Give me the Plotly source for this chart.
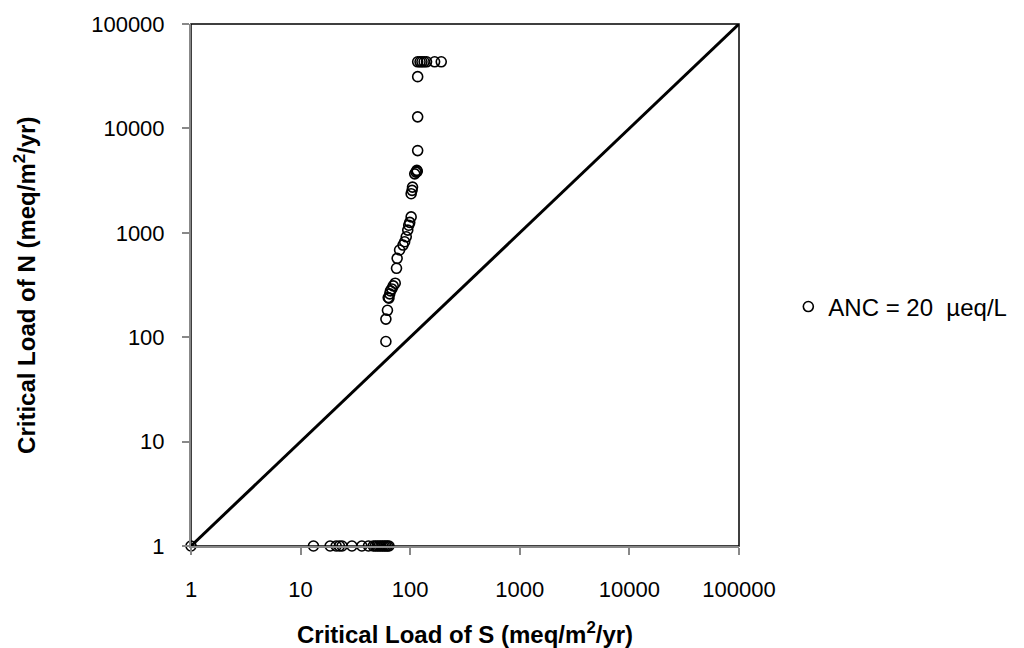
import plotly.graph_objects as go

# Points sitting on the N = 1 floor
floor_s = [1, 13.1, 18.6, 21.1, 22.6, 23.9, 29.4, 36.2, 41.6, 46, 48, 50, 52, 54, 56, 58, 60, 62, 64]
floor_n = [1] * len(floor_s)

# Rising branch
rise_s = [60, 60, 62, 64, 63, 65, 66, 68, 70, 73, 75, 76, 80, 86, 89, 92, 95, 97, 99, 102,
          102, 104, 105, 110, 113, 115, 116, 117, 117, 117,
          117, 123, 128, 134, 141, 167, 192]
rise_n = [91, 149, 181, 237, 240, 260, 278, 290, 310, 329, 457, 569, 684, 763, 821, 916, 1061, 1183, 1258, 1420,
          2370, 2550, 2740, 3670, 3810, 3960, 3880, 6130, 12900, 31300,
          43450, 43450, 43450, 43450, 43450, 43450, 43450]

s_vals = floor_s + rise_s
n_vals = floor_n + rise_n

line_x = [1, 100000]
line_y = [1, 100000]

tick_vals = [1, 10, 100, 1000, 10000, 100000]
tick_text = ["1", "10", "100", "1000", "10000", "100000"]

FONT = "Liberation Sans, Arial"

fig = go.Figure()
fig.add_trace(go.Scatter(x=line_x, y=line_y, mode="lines", cliponaxis=False,
                         line=dict(color="black", width=3), showlegend=False, hoverinfo="skip"))
fig.add_trace(go.Scatter(x=s_vals, y=n_vals, mode="markers", name="ANC = 20  µeq/L", cliponaxis=False,
                         marker=dict(symbol="circle-open", size=10, color="black",
                                     line=dict(width=1.6, color="black"))))

axis_common = dict(type="log", range=[0, 5], tickvals=tick_vals, ticktext=tick_text,
                   showgrid=False, zeroline=False, showline=True, linecolor="#888888", linewidth=2,
                   ticks="outside", ticklen=7, tickcolor="#888888", tickwidth=2,
                   tickfont=dict(family=FONT, size=22, color="black"))

fig.update_layout(
    width=1024, height=648,
    margin=dict(l=191, r=276, t=22, b=102),
    paper_bgcolor="white", plot_bgcolor="white",
    xaxis=dict(**axis_common, ticklabelstandoff=16),
    yaxis=dict(**axis_common, ticklabelstandoff=13),
    legend=dict(x=1.09, y=0.458, xanchor="left", yanchor="middle",
                font=dict(family=FONT, size=24, color="black"),
                itemwidth=30, bgcolor="rgba(0,0,0,0)"),
    shapes=[dict(type="rect", xref="paper", yref="paper", x0=0, y0=0, x1=1, y1=1,
                 line=dict(color="black", width=1.5), layer="below")],
    annotations=[
        dict(text="<b>Critical Load of S (meq/m<sup>2</sup>/yr)</b>", xref="paper", yref="paper",
             x=0.5, y=-0.166, xanchor="center", yanchor="middle", showarrow=False,
             font=dict(family=FONT, size=24, color="black")),
        dict(text="<b>Critical Load of N (meq/m<sup>2</sup>/yr)</b>", xref="paper", yref="paper",
             x=-0.303, y=0.5, xanchor="center", yanchor="middle", showarrow=False, textangle=-90,
             font=dict(family=FONT, size=24, color="black")),
    ],
)

fig.write_html("out.html")
